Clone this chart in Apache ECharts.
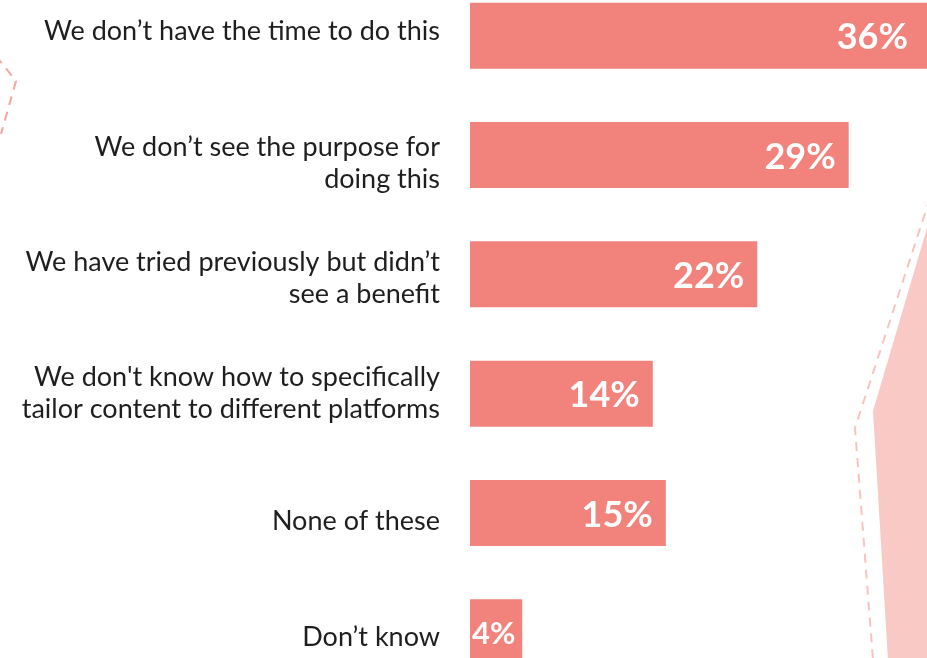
<!DOCTYPE html>
<html>
<head>
<meta charset="utf-8">
<script src="https://cdn.jsdelivr.net/npm/echarts@6/dist/echarts.min.js"></script>
<style>
  html, body { margin: 0; padding: 0; background: #ffffff; }
  #chart { width: 927px; height: 658px; }
</style>
</head>
<body>
<div id="chart"></div>
<script>
// Reasons for not tailoring content, share of respondents (%)
const categories = [
  "We don\u2019t have the time to do this",
  "We don\u2019t see the purpose for\ndoing this",
  "We have tried previously but didn\u2019t\nsee a benefit",
  "We don't know how to specifically\ntailor content to different platforms",
  "None of these",
  "Don\u2019t know"
];
const shares = [36, 29, 22, 14, 15, 4];

// small vertical nudges (px, + = down) for the category captions
const captionShift = [-4, 8, 4, -1, 8, 5];

const chart = echarts.init(document.getElementById('chart'), null, { renderer: 'canvas' });

const captionStyle = {
  color: '#1e1e1e',
  fontFamily: 'Lato',
  fontSize: 27,
  lineHeight: 32,
  align: 'right'
};
const rich = { t: captionStyle };
captionShift.forEach(function (d, i) {
  rich['g' + i] = { fontSize: 1, lineHeight: Math.max(1, 2 * Math.abs(d)), align: 'right' };
});

// captions are vertically centred on the bar; an empty spacer line nudges them
function caption(value, index) {
  const body = value.split('\n').map(function (line) { return '{t|' + line + '}'; }).join('\n');
  const d = captionShift[index];
  if (Math.abs(d) < 2) return body;
  const gap = '{g' + index + '|\u00a0}';
  return d > 0 ? gap + '\n' + body : body + '\n' + gap;
}

// value labels sit just inside the bar end; the longest bar runs past the page edge
const barData = shares.map(function (v, i) {
  const item = { value: v };
  if (i === 0) {
    item.label = { offset: [-14, 2] };
  }
  if (v < 6) {
    item.label = { position: 'insideLeft', offset: [-3, 2], fontSize: 31 };
  }
  return item;
});

chart.setOption({
  backgroundColor: '#ffffff',
  animation: false,
  grid: { left: 470, right: 0, top: -24, height: 716, outerBoundsMode: 'none', containLabel: false },
  xAxis: {
    type: 'value',
    min: 0,
    max: 35,
    show: false
  },
  yAxis: {
    type: 'category',
    inverse: true,
    data: categories,
    axisLine: { show: false },
    axisTick: { show: false },
    axisLabel: {
      margin: 30,
      color: '#1e1e1e',
      fontFamily: 'Lato',
      fontSize: 27,
      lineHeight: 32,
      align: 'right',
      formatter: caption,
      rich: rich
    }
  },
  series: [{
    type: 'bar',
    data: barData,
    barWidth: 66,
    itemStyle: { color: '#F2827C' },
    label: {
      show: true,
      position: 'insideRight',
      offset: [-8, 2],
      formatter: '{c}%',
      color: '#ffffff',
      fontFamily: 'Lato',
      fontWeight: 'bold',
      fontSize: 36
    }
  }],
  graphic: [
    {
      type: 'polygon',
      silent: true,
      z: -1,
      shape: { points: [[927, 228], [873, 411], [888, 660], [930, 660], [930, 228]] },
      style: { fill: '#F9C9C6' }
    },
    {
      type: 'polyline',
      silent: true,
      z: -1,
      shape: { points: [[930, 198], [855, 428], [873, 660]] },
      style: { stroke: '#F9C3C0', lineWidth: 2, lineDash: [9, 7], fill: null }
    },
    {
      type: 'polyline',
      silent: true,
      z: -1,
      shape: { points: [[-4, 56], [16, 81], [1, 134]] },
      style: { stroke: '#F5A5A1', lineWidth: 2, lineDash: [9, 7], fill: null }
    }
  ]
});
</script>
</body>
</html>
